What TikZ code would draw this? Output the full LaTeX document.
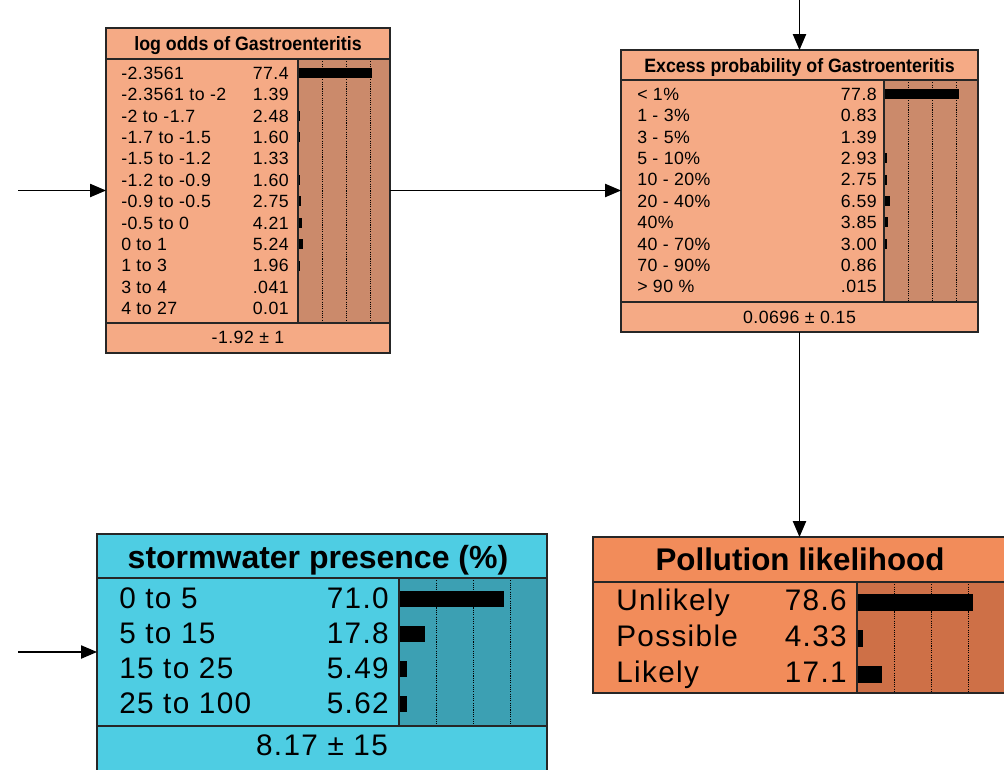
\documentclass[tikz,border=0pt]{standalone}
\usepackage{fontspec}
\setmainfont{Liberation Sans}
\newfontfamily\smallrowfont[LetterSpace=2.5]{Liberation Sans}
\newfontfamily\bigrowfont[LetterSpace=4.5]{Liberation Sans}
\newfontfamily\smalltitlefont[FakeStretch=0.92]{Liberation Sans}
\usetikzlibrary{arrows.meta,fit}

\definecolor{salmon}{HTML}{F5AA85}
\definecolor{salmonbar}{HTML}{CB8A6B}
\definecolor{cyanbox}{HTML}{4ECDE3}
\definecolor{cyanbar}{HTML}{3CA0B3}
\definecolor{orangebox}{HTML}{F28C5A}
\definecolor{orangebar}{HTML}{CE7047}
\definecolor{edge}{HTML}{262626}

\tikzset{
  frame/.style={inner sep=0pt, outer sep=0pt},
  rule/.style={draw=edge, line width=1pt},
  grid/.style={draw=black, line width=0.7pt, dash pattern=on 0.8pt off 0.9pt},
  srow/.style={font=\smallrowfont\fontsize{13.3}{15}\selectfont, inner sep=0pt, text height=9.5pt, text depth=0pt},
  brow/.style={font=\bigrowfont\fontsize{22.3}{25}\selectfont, inner sep=0pt, text height=16pt, text depth=0pt},
  stitle/.style={font=\smalltitlefont\bfseries\fontsize{14.5}{16}\selectfont, inner sep=0pt, text height=10.4pt, text depth=0pt},
  btitle/.style={font=\bfseries\fontsize{24}{27}\selectfont, inner sep=0pt, text height=17.2pt, text depth=0pt},
  conn/.style={-{Triangle[length=12pt,width=10pt]}, line width=0.9pt, black},
}

\begin{document}
\begin{tikzpicture}[x=0.75pt,y=-0.75pt]
\useasboundingbox (0,0) rectangle (1004,769);

% ---------------- log odds of Gastroenteritis ----------------
\node[frame, fit={(106,28) (390,353)}, fill=salmon] (lo) {};
\fill[salmonbar] (298,59) rectangle (390,323);
\foreach \x in {322,346,370} \draw[grid] (\x,59) -- (\x,323);
\node[stitle] (loT) at (248,44) {log odds of Gastroenteritis};
\foreach \lab/\num/\p [count=\i from 0] in {
  -2.3561/77.4/77.4, -2.3561 to -2/1.39/1.39, -2 to -1.7/2.48/2.48,
  -1.7 to -1.5/1.60/1.60, -1.5 to -1.2/1.33/1.33, -1.2 to -0.9/1.60/1.60,
  -0.9 to -0.5/2.75/2.75, -0.5 to 0/4.21/4.21, 0 to 1/5.24/5.24,
  1 to 3/1.96/1.96, 3 to 4/.041/0.041, 4 to 27/0.01/0.01} {
  \node[srow, anchor=west] (loL\i) at (121,73+21.4*\i) {\lab};
  \node[srow, anchor=east] (loV\i) at (289,73+21.4*\i) {\num};
  \fill[black] (298,73+21.4*\i-5) rectangle ++(0.96*\p,10);
}
\node[srow] (loF) at (248,337) {-1.92 ± 1};
\draw[rule] (106,59) -- (390,59) (106,323) -- (390,323) (298,59) -- (298,323);
\draw[rule] (lo.south west) rectangle (lo.north east);

% ---------------- Excess probability of Gastroenteritis ----------------
\node[frame, fit={(621,50) (978,332)}, fill=salmon] (ex) {};
\fill[salmonbar] (884,80) rectangle (978,302);
\foreach \x in {908,932,956} \draw[grid] (\x,80) -- (\x,302);
\node[stitle] (exT) at (799.5,66) {Excess probability of Gastroenteritis};
\foreach \lab/\num/\p [count=\i from 0] in {
  < 1\%/77.8/77.8, 1 - 3\%/0.83/0.83, 3 - 5\%/1.39/1.39, 5 - 10\%/2.93/2.93,
  10 - 20\%/2.75/2.75, 20 - 40\%/6.59/6.59, 40\%/3.85/3.85,
  40 - 70\%/3.00/3.00, 70 - 90\%/0.86/0.86, > 90 \%/.015/0.015} {
  \node[srow, anchor=west] (exL\i) at (637,94+21.4*\i) {\lab};
  \node[srow, anchor=east] (exV\i) at (877,94+21.4*\i) {\num};
  \fill[black] (884,94+21.4*\i-5) rectangle ++(0.96*\p,10);
}
\node[srow] (exF) at (799.5,317) {0.0696 ± 0.15};
\draw[rule] (621,80) -- (978,80) (621,302) -- (978,302) (884,80) -- (884,302);
\draw[rule] (ex.south west) rectangle (ex.north east);

% ---------------- stormwater presence (%) ----------------
\node[frame, fit={(97,534) (547,790)}, fill=cyanbox] (sw) {};
\node[frame, fit={(97,578) (547,726)}] (swB) {};
\fill[cyanbar] (399,578) rectangle (547,726);
\foreach \x in {436,473,510} \draw[grid] (\x,578) -- (\x,726);
\node[btitle] (swT) at (318,557) {stormwater presence (\%)};
\foreach \lab/\num/\p [count=\i from 0] in {
  0 to 5/71.0/71.0, 5 to 15/17.8/17.8, 15 to 25/5.49/5.49, 25 to 100/5.62/5.62} {
  \node[brow, anchor=west] (swL\i) at (119,598+35*\i) {\lab};
  \node[brow, anchor=east] (swV\i) at (389,598+35*\i) {\num};
  \fill[black] (399,599+35*\i-8) rectangle ++(1.48*\p,16);
}
\node[brow] (swF) at (322,745) {8.17 ± 15};
\draw[rule] (97,578) -- (547,578) (97,726) -- (547,726) (399,578) -- (399,726);
\draw[rule] (sw.south west) rectangle (sw.north east);

% ---------------- Pollution likelihood ----------------
\node[frame, fit={(593,537) (1007,693)}, fill=orangebox] (pol) {};
\fill[orangebar] (857,582) rectangle (1007,693);
\foreach \x in {894,931,968} \draw[grid] (\x,582) -- (\x,693);
\node[btitle, font=\bfseries\fontsize{23.5}{26}\selectfont] (polT) at (800,559) {Pollution likelihood};
\foreach \lab/\num/\p [count=\i from 0] in {
  Unlikely/78.6/78.6, Possible/4.33/4.33, Likely/17.1/17.1} {
  \node[brow, anchor=west] (polL\i) at (616,600+36*\i) {\lab};
  \node[brow, anchor=east] (polV\i) at (847,600+36*\i) {\num};
  \fill[black] (857,602+36*\i-8.5) rectangle ++(1.48*\p,17);
}
\draw[rule] (593,582) -- (1007,582) (857,582) -- (857,693);
\draw[rule] (pol.south west) rectangle (pol.north east);

% ---------------- connectors ----------------
\coordinate (srcA) at (18,190.5);
\coordinate (srcTop) at (799.5,0);
\coordinate (srcB) at (18,652);
\draw[conn] (srcA) -- (lo.west);
\draw[conn] (lo.east) -- (lo.east -| ex.west);
\draw[conn] (srcTop) -- (srcTop |- ex.north);
\draw[conn] (ex.south) -- (ex.south |- pol.north);
\draw[conn] (srcB) -- (srcB -| swB.west);
\end{tikzpicture}
\end{document}
